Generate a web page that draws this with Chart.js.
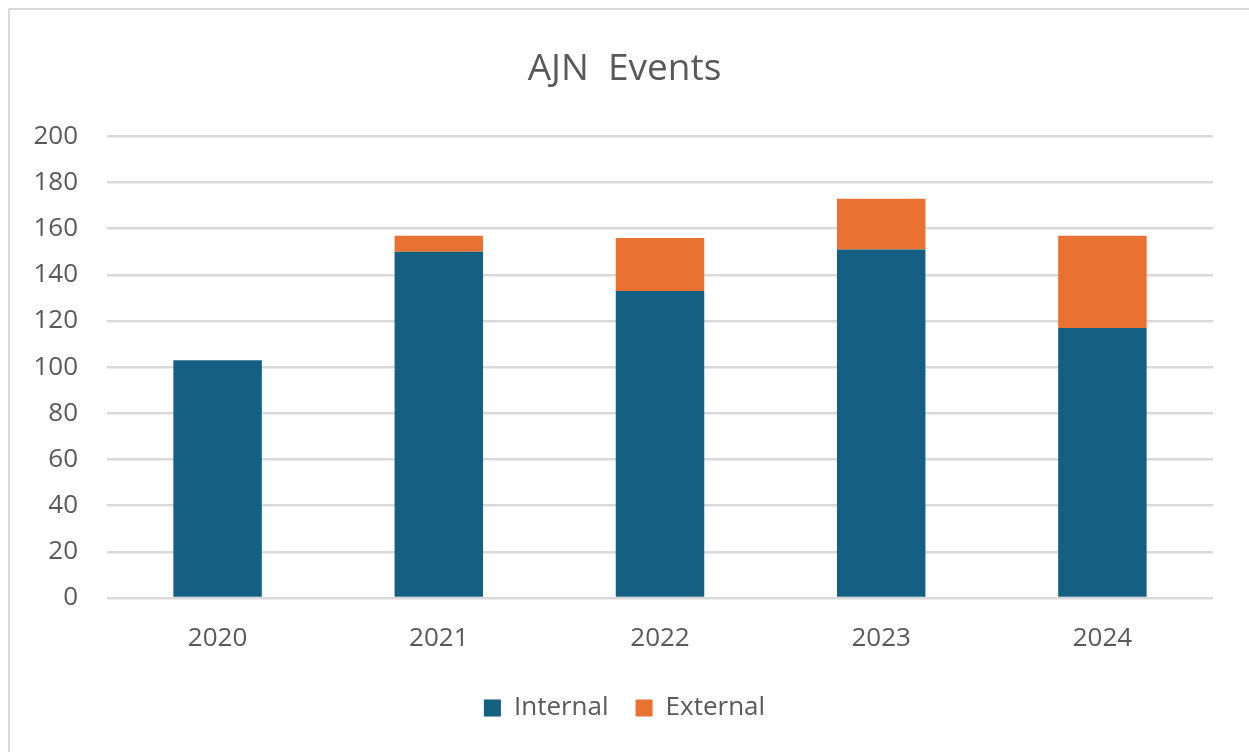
<!DOCTYPE html>
<html>
<head>
<meta charset="utf-8">
<script src="https://cdn.jsdelivr.net/npm/chart.js@4"></script>
<style>
    body { margin: 0; background: #fff; }
    #wrap { position: absolute; left: 0; top: 0; width: 1249px; height: 752px; }
    #frame { position: absolute; left: 8px; top: 8px; width: 1260px; height: 770px; border: 2px solid #d9d9d9; pointer-events: none; }
</style>
</head>
<body>
<div id="frame"></div>
<div id="wrap"><canvas id="chartCanvas"></canvas></div>
<script>
    // data
    const years = ['2020', '2021', '2022', '2023', '2024'];
    const internalEvents = [103, 150, 133, 151, 117];
    const externalEvents = [0, 7, 23, 22, 40];
    const yTicks = [0, 20, 40, 60, 80, 100, 120, 140, 160, 180, 200];

    const txt = '#595959';
    const fnt = '"Open Sans", "DejaVu Sans", sans-serif';

    const ctx = document.getElementById('chartCanvas');

    const chart = new Chart(ctx, {
        type: 'bar',
        data: {
            labels: years,
            datasets: [
                {
                    label: 'Internal',
                    data: internalEvents,
                    backgroundColor: '#156082',
                    barPercentage: 0.4,
                    categoryPercentage: 1
                },
                {
                    label: 'External',
                    data: externalEvents,
                    backgroundColor: '#E97132',
                    barPercentage: 0.4,
                    categoryPercentage: 1
                }
            ]
        },
        options: {
            responsive: true,
            maintainAspectRatio: false,
            animation: false,
            layout: { padding: { left: 0, right: 0, top: 0, bottom: 21 } },
            plugins: {
                title: {
                    display: true,
                    text: 'AJN  Events',
                    color: txt,
                    font: { family: fnt, size: 37, weight: 'normal' },
                    padding: { top: 47, bottom: 45 }
                },
                legend: {
                    position: 'bottom',
                    labels: {
                        color: txt,
                        font: { family: fnt, size: 26 },
                        boxWidth: 17,
                        boxHeight: 17,
                        padding: 27
                    }
                },
                tooltip: { enabled: false }
            },
            scales: {
                x: {
                    stacked: true,
                    grid: { display: false },
                    border: { display: false },
                    afterFit: function (scale) { scale.height = 70; },
                    ticks: { color: txt, font: { family: fnt, size: 26 }, padding: 17 }
                },
                y: {
                    stacked: true,
                    min: 0,
                    max: 200,
                    afterFit: function (scale) { scale.width = 107; },
                    afterBuildTicks: function (scale) {
                        scale.ticks = yTicks.map(v => ({ value: v }));
                    },
                    grid: { color: '#d9d9d9', lineWidth: 2.5, drawTicks: false },
                    border: { display: false },
                    ticks: { color: txt, font: { family: fnt, size: 26 }, padding: 29 }
                },
                // empty right-hand axis, only keeps the plot clear of the right edge
                yRight: {
                    position: 'right',
                    grid: { display: false },
                    border: { display: false },
                    ticks: { display: false },
                    afterFit: function (scale) { scale.width = 36; }
                }
            }
        }
    });
</script>
</body>
</html>
